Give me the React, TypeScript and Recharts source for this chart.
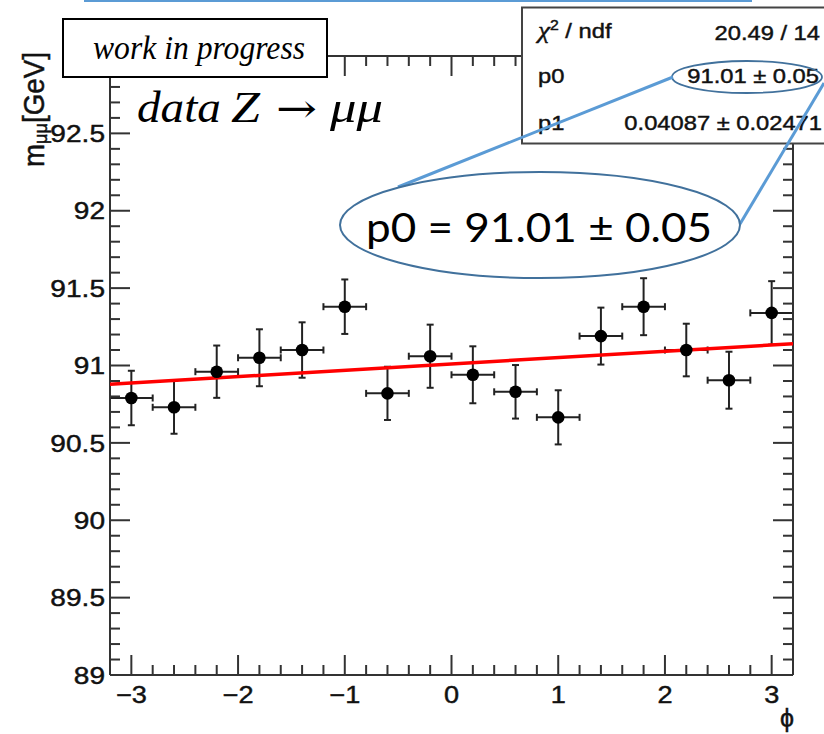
import React from 'react';
import { ComposedChart, Scatter, XAxis, YAxis, ErrorBar } from 'recharts';

// Bin centres in phi and the fitted Z peak mass per bin
const phiCentres = [-3.0, -2.6, -2.2, -1.8, -1.4, -1.0, -0.6, -0.2, 0.2, 0.6, 1.0, 1.4, 1.8, 2.2, 2.6, 3.0];
const phiHalfWidth = [0.2, 0.2, 0.2, 0.2, 0.2, 0.2, 0.2, 0.2, 0.2, 0.2, 0.2, 0.2, 0.2, 0.2, 0.2, 0.2];
const massValues = [90.79, 90.73, 90.96, 91.05, 91.10, 91.38, 90.82, 91.06, 90.94, 90.83, 90.665, 91.19, 91.38, 91.10, 90.905, 91.34];
const massErrors = [0.176, 0.171, 0.169, 0.184, 0.179, 0.176, 0.172, 0.204, 0.184, 0.173, 0.175, 0.184, 0.184, 0.170, 0.184, 0.205];

// Linear fit m = p0 + p1 * phi
const fitP0 = 91.01;
const fitP0Err = 0.05;
const fitP1 = 0.04087;
const fitP1Err = 0.02471;
const fitChi2 = 20.49;
const fitNdf = 14;
const fitRange = [-3.2, 3.2];

// Axes
const xDomain = [-3.2, 3.2];
const yDomain = [89, 93];
const xMajorTicks = [-3, -2, -1, 0, 1, 2, 3];
const xTickLabels = ['\u22123', '\u22122', '\u22121', '0', '1', '2', '3'];
const yMajorTicks = [89, 89.5, 90, 90.5, 91, 91.5, 92, 92.5];
const yTickLabels = ['89', '89.5', '90', '90.5', '91', '91.5', '92', '92.5'];

const steps = (from: number, to: number, step: number) => {
  const out: number[] = [];
  const n = Math.round((to - from) / step);
  for (let i = 0; i <= n; i++) out.push(Math.round((from + i * step) * 1000) / 1000);
  return out;
};
const xMinorTicks = steps(-3.0, 3.0, 0.2);
const yMinorTicks = steps(89.0, 92.9, 0.1);

const points = phiCentres.map((p, i) => ({ phi: p, m: massValues[i], ex: phiHalfWidth[i], ey: massErrors[i] }));
const fitLine = fitRange.map((p) => ({ phi: p, m: fitP0 + fitP1 * p }));

const AXIS = '#333';
const SANS = '"Liberation Sans", Arial, Helvetica, sans-serif';
const SERIF = '"Liberation Serif", "Times New Roman", serif';
const LINK_BLUE = '#5B9BD5';
const RING_BLUE = '#41719C';

const majorIndex = (v: number, list: number[]) => list.findIndex((t) => Math.abs(t - v) < 1e-6);

function WideText(props: any) {
  const { x, y, anchor = 'start', size = 24, sx = 1.1, children, fill = '#111', weight = 0.45 } = props;
  return (
    <text
      transform={`translate(${x} ${y}) scale(${sx} 1)`}
      textAnchor={anchor}
      fontSize={size}
      fontFamily={SANS}
      fill={fill}
      stroke={fill}
      strokeWidth={weight}
    >
      {children}
    </text>
  );
}

function BottomTick(props: any) {
  const { x, y, payload } = props;
  const i = majorIndex(payload.value, xMajorTicks);
  const len = i >= 0 ? 20 : 10;
  return (
    <g>
      <line x1={x} y1={y} x2={x} y2={y - len} stroke={AXIS} strokeWidth={2} />
      {i >= 0 && (
        <WideText x={x} y={y + 28} anchor="middle" size={24} sx={1.13}>
          {xTickLabels[i]}
        </WideText>
      )}
    </g>
  );
}

function TopTick(props: any) {
  const { x, y, payload } = props;
  const len = majorIndex(payload.value, xMajorTicks) >= 0 ? 20 : 10;
  return <line x1={x} y1={y} x2={x} y2={y + len} stroke={AXIS} strokeWidth={2} />;
}

function LeftTick(props: any) {
  const { x, y, payload } = props;
  const i = majorIndex(payload.value, yMajorTicks);
  const len = i >= 0 ? 20 : 10;
  return (
    <g>
      <line x1={x} y1={y} x2={x + len} y2={y} stroke={AXIS} strokeWidth={2} />
      {i >= 0 && (
        <WideText x={x - 5} y={y + 8.7} anchor="end" size={24} sx={1.17}>
          {yTickLabels[i]}
        </WideText>
      )}
    </g>
  );
}

function RightTick(props: any) {
  const { x, y, payload } = props;
  const len = majorIndex(payload.value, yMajorTicks) >= 0 ? 20 : 10;
  return <line x1={x} y1={y} x2={x - len} y2={y} stroke={AXIS} strokeWidth={2} />;
}

const Marker = (p: any) => <circle cx={p.cx} cy={p.cy} r={6.3} fill="#000" />;
const NoMarker = () => <g />;

export default function App() {
  return (
    <div style={{ position: 'absolute', left: 0, top: 0, width: 824, height: 734, background: '#fff' }}>
      <ComposedChart
        width={824}
        height={734}
        margin={{ top: 46, right: 21, bottom: 29, left: 50 }}
        style={{ position: 'absolute', left: 0, top: 0 }}
      >
        <XAxis
          xAxisId="bottom"
          dataKey="phi"
          type="number"
          domain={xDomain}
          allowDataOverflow
          ticks={xMinorTicks}
          interval={0}
          height={30}
          tickSize={0}
          tickMargin={0}
          tickLine={false}
          axisLine={{ stroke: AXIS, strokeWidth: 2 }}
          tick={<BottomTick />}
        />
        <XAxis
          xAxisId="top"
          orientation="top"
          dataKey="phi"
          type="number"
          domain={xDomain}
          allowDataOverflow
          ticks={xMinorTicks}
          interval={0}
          height={10}
          tickSize={0}
          tickMargin={0}
          tickLine={false}
          axisLine={{ stroke: AXIS, strokeWidth: 2 }}
          tick={<TopTick />}
        />
        <YAxis
          yAxisId="left"
          dataKey="m"
          type="number"
          domain={yDomain}
          allowDataOverflow
          ticks={yMinorTicks}
          interval={0}
          width={60}
          tickSize={0}
          tickMargin={0}
          tickLine={false}
          axisLine={{ stroke: AXIS, strokeWidth: 2 }}
          tick={<LeftTick />}
        />
        <YAxis
          yAxisId="right"
          orientation="right"
          dataKey="m"
          type="number"
          domain={yDomain}
          allowDataOverflow
          ticks={yMinorTicks}
          interval={0}
          width={10}
          tickSize={0}
          tickMargin={0}
          tickLine={false}
          axisLine={{ stroke: AXIS, strokeWidth: 2 }}
          tick={<RightTick />}
        />
        <Scatter
          xAxisId="top"
          yAxisId="right"
          data={fitLine}
          dataKey="m"
          line={{ stroke: '#ff0000', strokeWidth: 3.5 }}
          shape={NoMarker}
          isAnimationActive={false}
        />
        <Scatter
          xAxisId="bottom"
          yAxisId="left"
          data={points}
          dataKey="m"
          shape={Marker}
          isAnimationActive={false}
        >
          <ErrorBar dataKey="ex" direction="x" width={3.5} stroke="#222" strokeWidth={2} isAnimationActive={false} />
          <ErrorBar dataKey="ey" direction="y" width={3.5} stroke="#222" strokeWidth={2} isAnimationActive={false} />
        </Scatter>
      </ComposedChart>

      <svg width={824} height={734} style={{ position: 'absolute', left: 0, top: 0, pointerEvents: 'none' }}>
        <line x1={84} y1={1} x2={752} y2={1} stroke={LINK_BLUE} strokeWidth={2} />

        {/* axis titles */}
        <text
          transform="translate(44 52) rotate(-90)"
          textAnchor="end"
          fontSize={29}
          fontFamily={SANS}
          fill="#111"
          stroke="#111"
          strokeWidth={0.5}
          textLength={115}
          lengthAdjust="spacingAndGlyphs"
        >
          m<tspan fontSize={19} dy={3}>μμ</tspan>
          <tspan dy={-3}>[GeV]</tspan>
        </text>
        <text x={794} y={727} textAnchor="end" fontSize={25} fontFamily={SANS} fill="#111" stroke="#111" strokeWidth={0.45}>
          ϕ
        </text>

        {/* labels */}
        <rect x={63} y={19} width={264} height={58} fill="#fff" stroke="#000" strokeWidth={2} />
        <text
          x={93}
          y={59}
          fontSize={34}
          fontStyle="italic"
          fontFamily={SERIF}
          fill="#000"
          textLength={212}
          lengthAdjust="spacingAndGlyphs"
        >
          work in progress
        </text>
        <g fontFamily={SERIF} fontSize={44} fill="#000">
          <text x={137} y={122} fontStyle="italic" textLength={84} lengthAdjust="spacingAndGlyphs">data</text>
          <text x={231} y={122} fontStyle="italic" textLength={29} lengthAdjust="spacingAndGlyphs">Z</text>
          <text
            x={276}
            y={122}
            fontFamily='"DejaVu Serif", serif'
            fontSize={40}
            textLength={41}
            lengthAdjust="spacingAndGlyphs"
          >
            →
          </text>
          <text x={330} y={122} fontStyle="italic" textLength={53} lengthAdjust="spacingAndGlyphs">μμ</text>
        </g>

        {/* fit statistics box */}
        <rect x={522} y={7.5} width={330} height={136} fill="#fff" stroke="#444" strokeWidth={2} />
        <WideText x={538} y={38} size={21} sx={1.13}>
          <tspan fontFamily={SERIF} fontStyle="italic" fontSize={24}>χ</tspan>
          <tspan fontSize={14} dy={-8}>2</tspan>
          <tspan dy={8}> / ndf</tspan>
        </WideText>
        <WideText x={820} y={40} anchor="end" size={21} sx={1.13}>
          {`${fitChi2.toFixed(2)} / ${fitNdf}`}
        </WideText>
        <WideText x={538} y={83} size={21} sx={1.13}>p0</WideText>
        <WideText x={819} y={83} anchor="end" size={21} sx={1.13}>
          {`${fitP0.toFixed(2)} ± ${fitP0Err.toFixed(2)}`}
        </WideText>
        <WideText x={538} y={130} size={21} sx={1.13}>p1</WideText>
        <WideText x={822} y={130} anchor="end" size={21} sx={1.13}>
          {`${fitP1} ± ${fitP1Err}`}
        </WideText>

        {/* highlighted p0 call-out */}
        <ellipse cx={747} cy={77} rx={75} ry={16} fill="none" stroke={RING_BLUE} strokeWidth={1.8} />
        <line x1={673} y1={77} x2={398} y2={187} stroke={LINK_BLUE} strokeWidth={3} />
        <line x1={824} y1={83} x2={740} y2={224} stroke={LINK_BLUE} strokeWidth={3} />
        <ellipse cx={540} cy={225} rx={200} ry={53} fill="#fff" stroke={RING_BLUE} strokeWidth={2} />
        <text
          x={366}
          y={242}
          fontSize={40}
          fontFamily='Lato, "Open Sans", sans-serif'
          fill="#000"
          textLength={346}
          lengthAdjust="spacingAndGlyphs"
        >
          {`p0 = ${fitP0.toFixed(2)} ± ${fitP0Err.toFixed(2)}`}
        </text>
      </svg>
    </div>
  );
}
